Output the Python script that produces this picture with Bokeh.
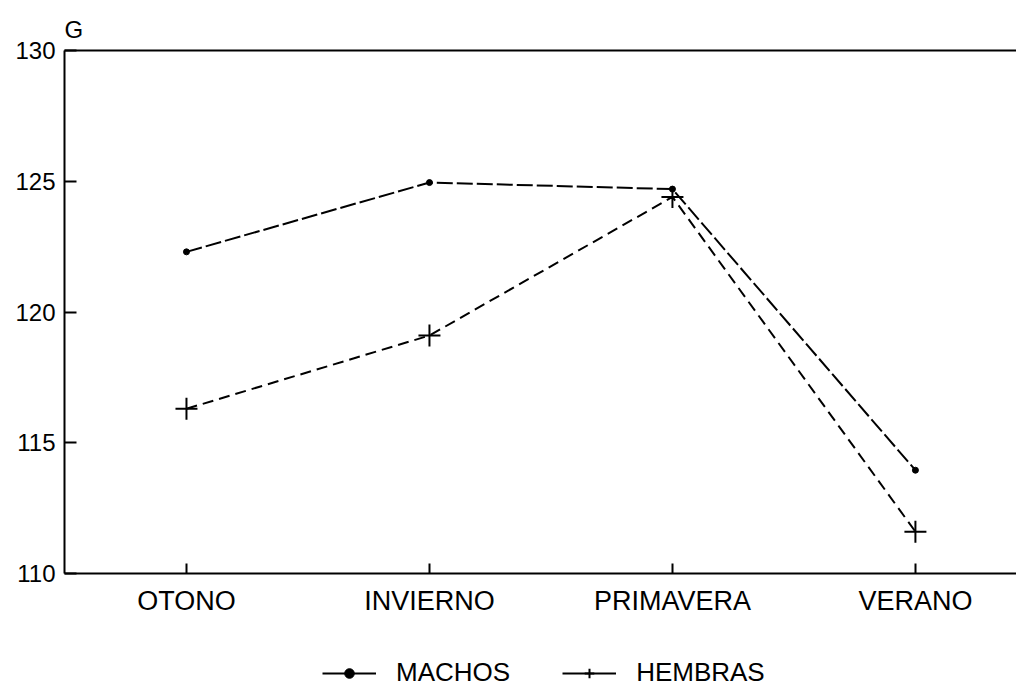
from bokeh.plotting import figure
from bokeh.layouts import column
from bokeh.models import (FixedTicker, LinearAxis, Legend, LegendItem, Range1d)
from bokeh.embed import file_html
from bokeh.resources import INLINE

seasons = ["OTONO", "INVIERNO", "PRIMAVERA", "VERANO"]
season_pos = [1, 2, 3, 4]
machos = [122.3, 124.95, 124.7, 113.95]
hembras = [116.3, 119.1, 124.4, 111.6]
y_ticks = [110, 115, 120, 125, 130]

FONT = "Liberation Sans"

p = figure(width=1016, height=625, output_backend="svg", toolbar_location=None,
           x_range=Range1d(0.498, 4.416), y_range=Range1d(110, 130),
           min_border_left=64, min_border_right=0, min_border_top=50,
           min_border_bottom=52, title="G")
p.outline_line_color = None
p.grid.visible = False
p.background_fill_color = "white"
p.border_fill_color = "white"

p.title.text_font = FONT
p.title.text_font_size = "24px"
p.title.text_font_style = "normal"
p.title.text_color = "black"
p.title.align = "left"
p.title.offset = 0
p.title.standoff = 15

# x axis
xa = p.xaxis[0]
xa.ticker = FixedTicker(ticks=season_pos)
xa.major_label_overrides = {i: s for i, s in zip(season_pos, seasons)}
xa.major_label_text_font = FONT
xa.major_label_text_font_size = "27px"
xa.major_label_text_color = "black"
xa.major_label_standoff = 12
xa.major_tick_in = 10
xa.major_tick_out = 0
xa.minor_tick_line_color = None
xa.axis_line_width = 2
xa.major_tick_line_width = 2
xa.axis_line_color = "black"

# y axis
ya = p.yaxis[0]
ya.ticker = FixedTicker(ticks=y_ticks)
ya.major_label_text_font = FONT
ya.major_label_text_font_size = "24px"
ya.major_label_text_color = "black"
ya.major_label_standoff = 9
ya.major_tick_in = 12
ya.major_tick_out = 0
ya.minor_tick_line_color = None
ya.axis_line_width = 2
ya.major_tick_line_width = 2

# top frame line
top = LinearAxis(ticker=FixedTicker(ticks=[]), major_label_text_font_size="0px",
                 major_tick_line_color=None, minor_tick_line_color=None,
                 axis_line_width=2)
p.add_layout(top, "above")

p.line(season_pos, machos, line_color="black", line_width=2, line_dash="16 4")
p.scatter(season_pos, machos, marker="circle", size=6, fill_color="black", line_color="black")
p.line(season_pos, hembras, line_color="black", line_width=2, line_dash="11 6")
p.scatter(season_pos, hembras, marker="cross", size=22, line_color="black", line_width=2)

# legend strip below the chart (its ranges keep the series out of view;
# the renderers only provide solid-line legend samples)
lf = figure(width=1016, height=66, output_backend="svg", toolbar_location=None,
            x_range=Range1d(0, 1), y_range=Range1d(0, 1),
            x_axis_location=None, y_axis_location=None,
            min_border_left=64, min_border_right=0, min_border_top=0, min_border_bottom=0)
lf.outline_line_color = None
lf.grid.visible = False

lg1 = lf.line(season_pos, machos, line_color="black", line_width=2)
lg1s = lf.scatter(season_pos, machos, marker="circle", size=6, fill_color="black", line_color="black")
lg2 = lf.line(season_pos, hembras, line_color="black", line_width=2)
lg2s = lf.scatter(season_pos, hembras, marker="cross", size=22, line_color="black", line_width=2)

legend = Legend(items=[LegendItem(label="MACHOS", renderers=[lg1, lg1s]),
                       LegendItem(label="HEMBRAS", renderers=[lg2, lg2s])],
                orientation="horizontal", location=(258, 3),
                border_line_color=None, background_fill_alpha=0,
                label_text_font=FONT, label_text_font_size="26px",
                label_text_color="black",
                glyph_width=54, glyph_height=24, spacing=52, label_standoff=20,
                margin=0, padding=0)
lf.add_layout(legend, "center")

layout = column(p, lf, spacing=0)
open("out.html", "w").write(file_html(layout, INLINE))
